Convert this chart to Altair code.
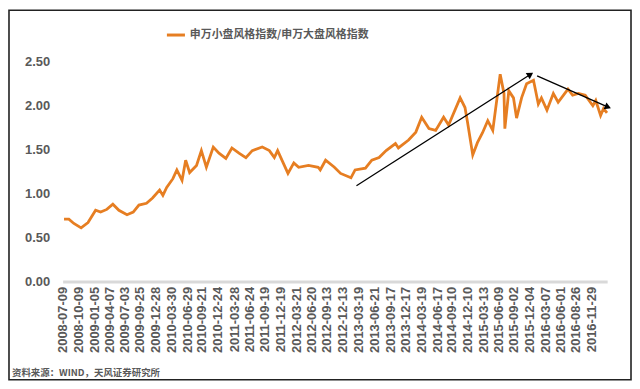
import altair as alt
import pandas as pd

# ---- data ----
dates = [
    "2008-07-15", "2008-08-12", "2008-09-10", "2008-10-22", "2008-12-01",
    "2009-01-14", "2009-02-12", "2009-03-20", "2009-04-24", "2009-05-29",
    "2009-07-15", "2009-08-20", "2009-09-22", "2009-11-05", "2009-12-10",
    "2010-01-20", "2010-02-08", "2010-03-02", "2010-04-07", "2010-04-30",
    "2010-05-30", "2010-06-20", "2010-07-13", "2010-08-22", "2010-09-19",
    "2010-10-18", "2010-11-27", "2010-12-30",
    "2011-02-08", "2011-03-15", "2011-04-25", "2011-06-04", "2011-07-11",
    "2011-09-07", "2011-10-18", "2011-11-16", "2011-12-05",
    "2012-02-03", "2012-03-08", "2012-04-05", "2012-06-01", "2012-07-27",
    "2012-08-08", "2012-09-08", "2012-10-29", "2012-12-04",
    "2013-02-02", "2013-02-26", "2013-04-27", "2013-06-03", "2013-07-15",
    "2013-08-25", "2013-10-18", "2013-11-04",
    "2014-01-02", "2014-02-13", "2014-03-19", "2014-04-30", "2014-06-08",
    "2014-07-24", "2014-08-22", "2014-10-28", "2014-11-25", "2014-12-10",
    "2015-01-09", "2015-02-05", "2015-03-06", "2015-04-06", "2015-05-05",
    "2015-06-17", "2015-07-09", "2015-07-14", "2015-08-06", "2015-09-02",
    "2015-09-20", "2015-10-19", "2015-11-17", "2015-12-27",
    "2016-01-24", "2016-02-11", "2016-03-14", "2016-04-20", "2016-05-18",
    "2016-07-14", "2016-08-10", "2016-09-12", "2016-10-22", "2016-12-05",
    "2016-12-22",
    "2017-01-19", "2017-02-05", "2017-02-25",
]
ratio = [
    0.71, 0.71, 0.66, 0.61, 0.67,
    0.81, 0.79, 0.82, 0.88, 0.81,
    0.76, 0.79, 0.87, 0.89, 0.95,
    1.04, 0.98, 1.07, 1.17, 1.27,
    1.15, 1.38, 1.24, 1.32, 1.49,
    1.30, 1.53, 1.46,
    1.40, 1.52, 1.46, 1.41, 1.49,
    1.53, 1.49, 1.41, 1.49,
    1.23, 1.35, 1.30, 1.32, 1.30,
    1.27, 1.38, 1.30, 1.23,
    1.18, 1.27, 1.29, 1.38, 1.41,
    1.49, 1.57, 1.52,
    1.61, 1.70, 1.87, 1.74, 1.72,
    1.87, 1.78, 2.09, 1.98, 1.81,
    1.44, 1.58, 1.69, 1.83, 1.72,
    2.36, 2.14, 1.74, 2.17, 2.09,
    1.86, 2.09, 2.25, 2.29,
    2.02, 2.09, 1.95, 2.14, 2.04,
    2.19, 2.12, 2.14, 2.12, 2.00,
    2.06,
    1.89, 1.97, 1.92,
]
series_name = "申万小盘风格指数/申万大盘风格指数"

tick_dates = [
    "2008-07-09", "2008-10-09", "2009-01-05", "2009-04-07", "2009-07-03",
    "2009-09-25", "2009-12-28", "2010-03-30", "2010-06-29", "2010-09-21",
    "2010-12-24", "2011-03-28", "2011-06-24", "2011-09-19", "2011-12-19",
    "2012-03-21", "2012-06-20", "2012-09-13", "2012-12-13", "2013-03-19",
    "2013-06-21", "2013-09-17", "2013-12-17", "2014-03-19", "2014-06-17",
    "2014-09-10", "2014-12-10", "2015-03-13", "2015-06-09", "2015-09-02",
    "2015-12-04", "2016-03-07", "2016-06-01", "2016-08-26", "2016-11-29",
]
y_ticks = [0.0, 0.5, 1.0, 1.5, 2.0, 2.5]

arrow_x0 = ["2013-03-06", "2016-01-17"]
arrow_y0 = [1.09, 2.34]
arrow_x1 = ["2015-12-04", "2017-02-25"]
arrow_y1 = [2.35, 1.99]

source_text = "资料来源：WIND，天风证券研究所"

# ---- build ----
def dt(s):
    y, m, d = (int(p) for p in s.split("-"))
    return alt.DateTime(year=y, month=m, date=d, utc=True)

df = pd.DataFrame({"date": dates, "ratio": ratio, "series": series_name})
arrows = pd.DataFrame({"x0": arrow_x0, "y0": arrow_y0, "x1": arrow_x1, "y1": arrow_y1})

GRAY = "#595959"
ORANGE = "#E67E22"
LAT = "Liberation Sans"
CJK = "Noto Sans CJK SC"

xscale = alt.Scale(domain=[dt("2008-07-07"), dt("2017-02-26")], nice=False)
yscale = alt.Scale(domain=[0, 2.5], nice=False, zero=True)

xaxis = alt.Axis(
    values=[dt(s) for s in tick_dates],
    labelExpr="utcFormat(datum.value, '%Y-%m-%d')",
    labelAngle=270, labelFont=LAT, labelFontSize=13, labelFontWeight="bold",
    labelColor=GRAY, labelPadding=5, labelOverlap=False, labelBound=False,
    labelFlush=False,
    ticks=False, domainColor="#D9D9D9", domainWidth=3, grid=False, title=None,
)
yaxis = alt.Axis(
    values=y_ticks, format=".2f", labelFont=LAT, labelFontSize=13,
    labelFontWeight="bold", labelColor=GRAY, labelPadding=13,
    ticks=False, domain=False, grid=False, title=None,
)

line = alt.Chart(df).mark_line(strokeWidth=2.8).encode(
    x=alt.X("date:T", scale=xscale, axis=xaxis),
    y=alt.Y("ratio:Q", scale=yscale, axis=yaxis),
    color=alt.Color(
        "series:N",
        scale=alt.Scale(range=[ORANGE]),
        legend=alt.Legend(
            title=None, orient="none", legendX=103, legendY=-38,
            symbolType="stroke", symbolStrokeWidth=3, symbolSize=330,
            labelFont=CJK, labelFontSize=11, labelFontWeight="bold",
            labelColor=GRAY, padding=0, labelOffset=3, labelLimit=400,
        ),
    ),
)

ax_x0 = alt.X("x0:T", scale=xscale, axis=None)
ax_x1 = alt.X("x1:T", scale=xscale, axis=None)
ax_y0 = alt.Y("y0:Q", scale=yscale, axis=None)
ax_y1 = alt.Y("y1:Q", scale=yscale, axis=None)

arrow_lines = alt.Chart(arrows).mark_rule(color="black", strokeWidth=1.3).encode(
    x=ax_x0, y=ax_y0, x2="x1:T", y2="y1:Q"
)

head1 = alt.Chart(arrows.iloc[[0]]).mark_point(
    shape="triangle", filled=True, color="black", size=55, opacity=1
).encode(x=ax_x1, y=ax_y1, angle=alt.value(57))
head2 = alt.Chart(arrows.iloc[[1]]).mark_point(
    shape="triangle", filled=True, color="black", size=55, opacity=1
).encode(x=ax_x1, y=ax_y1, angle=alt.value(113))

source = alt.Chart(alt.Data(values=[{"t": source_text}])).mark_text(
    align="left", baseline="middle", font=CJK, fontSize=9.5,
    fontWeight="bold", color=GRAY,
).encode(text="t:N", x=alt.value(-51), y=alt.value(313))

border = alt.Chart(alt.Data(values=[{}])).mark_rect(
    filled=False, stroke="#222222", strokeWidth=1.6
).encode(x=alt.value(-54), x2=alt.value(572), y=alt.value(-52), y2=alt.value(320))

chart = alt.layer(line, arrow_lines, head1, head2, source, border).resolve_axis(
    x="independent", y="independent"
).properties(
    width=548, height=221,
    padding={"left": 55, "top": 53, "right": 25, "bottom": 101},
    autosize=alt.AutoSizeParams(type="none"),
).configure(
    background="white",
    view=alt.ViewConfig(stroke=None),
    axis=alt.AxisConfig(labelOverlap=False),
)

chart.save("out.html", embed_options={"renderer": "svg", "actions": False})
